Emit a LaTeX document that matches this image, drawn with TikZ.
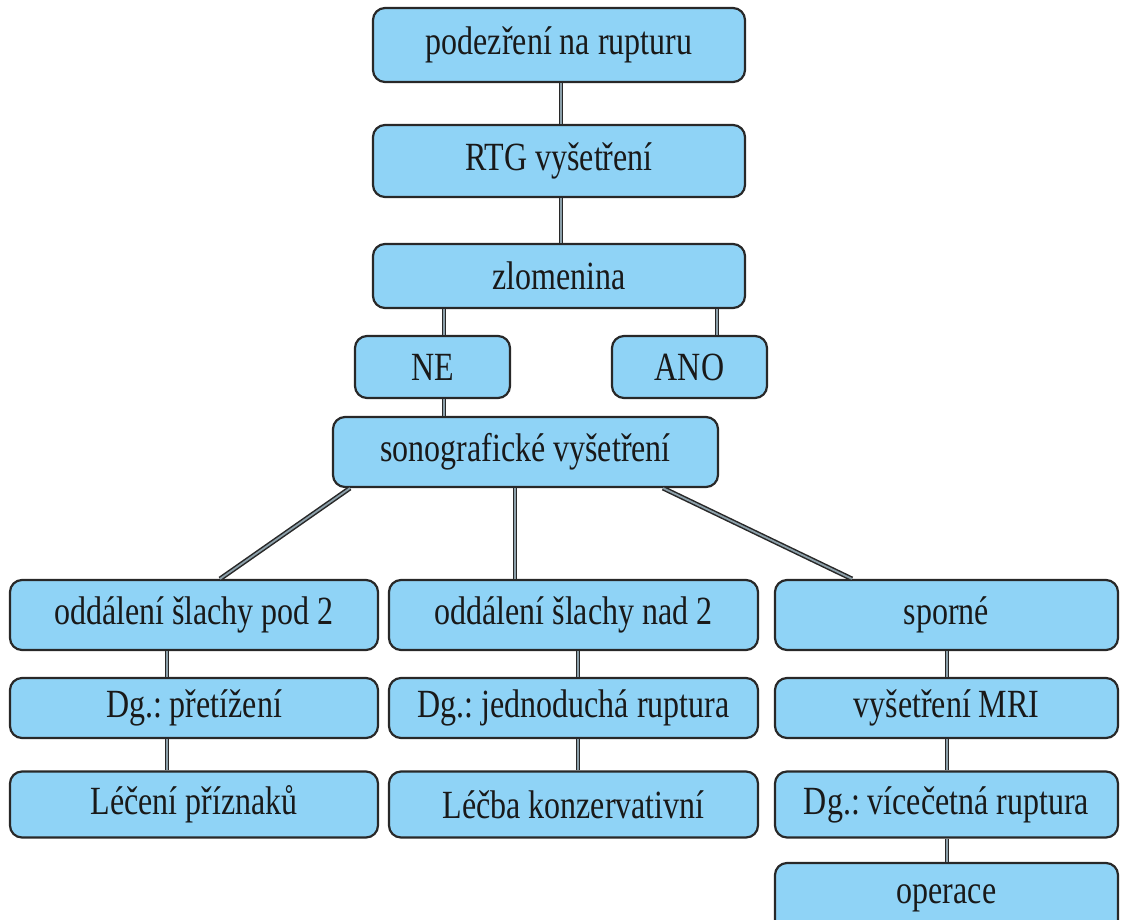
\documentclass[tikz,border=0pt]{standalone}
\usepackage{fontspec}
\setmainfont{Liberation Serif}[FakeStretch=0.8]
\definecolor{boxfill}{RGB}{143,211,246}
\definecolor{boxline}{RGB}{40,40,40}
\definecolor{linkfill}{RGB}{140,160,170}

\tikzset{every picture/.style={line width=0.75pt}}
\tikzset{
  box/.style={draw=boxline, fill=boxfill, line width=2.2pt, rounded corners=12pt,
    inner sep=2pt, text=black!90, font=\fontsize{40}{46}\selectfont},
  link/.style={draw=boxline, line width=1.5pt, double=linkfill, double distance=1.8pt},
}
\frenchspacing

\begin{document}
\begin{tikzpicture}[x=1pt,y=1pt,yscale=-1,xscale=1]
\useasboundingbox (0,0) rectangle (1122,919);

% Top chain
\node[box, minimum width=372, minimum height=74] (podezreni) at (559,45) {podezření na rupturu};
\node[box, minimum width=372, minimum height=72] (rtg) at (559,161) {RTG vyšetření};
\node[box, minimum width=372, minimum height=64] (zlomenina) at (559,276) {zlomenina};
\node[box, minimum width=155, minimum height=62] (ne) at (432.5,367) {NE};
\node[box, minimum width=155, minimum height=62] (ano) at (689.5,367) {ANO};
\node[box, minimum width=385, minimum height=70] (sono) at (525.5,452) {sonografické vyšetření};

% Left column
\node[box, minimum width=368, minimum height=70] (pod) at (194,615) {oddálení šlachy pod 2};
\node[box, minimum width=368, minimum height=60] (pretizeni) at (194,708) {Dg.: přetížení};
\node[box, minimum width=368, minimum height=66] (priznaky) at (194,804.5) {Léčení příznaků};

% Middle column
\node[box, minimum width=369, minimum height=70] (nad) at (573.5,615) {oddálení šlachy nad 2};
\node[box, minimum width=369, minimum height=60] (jednoducha) at (573.5,708) {Dg.: jednoduchá ruptura};
\node[box, minimum width=369, minimum height=66] (konzerv) at (573.5,804.5) {Léčba konzervativní};

% Right column
\node[box, minimum width=343, minimum height=70] (sporne) at (946.5,615) {sporné};
\node[box, minimum width=343, minimum height=60] (mri) at (946.5,708) {vyšetření MRI};
\node[box, minimum width=343, minimum height=66] (vicecetna) at (946.5,804.5) {Dg.: vícečetná ruptura};
\node[box, minimum width=343, minimum height=70] (operace) at (946.5,898) {operace};

%Straight Lines
\draw[link] (podezreni.south -| 561,0) -- (rtg.north -| 561,0);
\draw[link] (rtg.south -| 561,0) -- (zlomenina.north -| 561,0);
\draw[link] (zlomenina.south -| 444,0) -- (ne.north -| 444,0);
\draw[link] (zlomenina.south -| 717,0) -- (ano.north -| 717,0);
\draw[link] (ne.south -| 444,0) -- (sono.north -| 444,0);
\draw[link] (sono.south -| 350,0) -- (pod.north -| 220,0);
\draw[link] (sono.south -| 515,0) -- (nad.north -| 515,0);
\draw[link] (sono.south -| 663,0) -- (sporne.north -| 852,0);
\draw[link] (pod.south -| 167,0) -- (pretizeni.north -| 167,0);
\draw[link] (pretizeni.south -| 167,0) -- (priznaky.north -| 167,0);
\draw[link] (nad.south -| 578,0) -- (jednoducha.north -| 578,0);
\draw[link] (jednoducha.south -| 578,0) -- (konzerv.north -| 578,0);
\draw[link] (sporne.south -| 947,0) -- (mri.north -| 947,0);
\draw[link] (mri.south -| 947,0) -- (vicecetna.north -| 947,0);
\draw[link] (vicecetna.south -| 947,0) -- (operace.north -| 947,0);

\end{tikzpicture}
\end{document}
